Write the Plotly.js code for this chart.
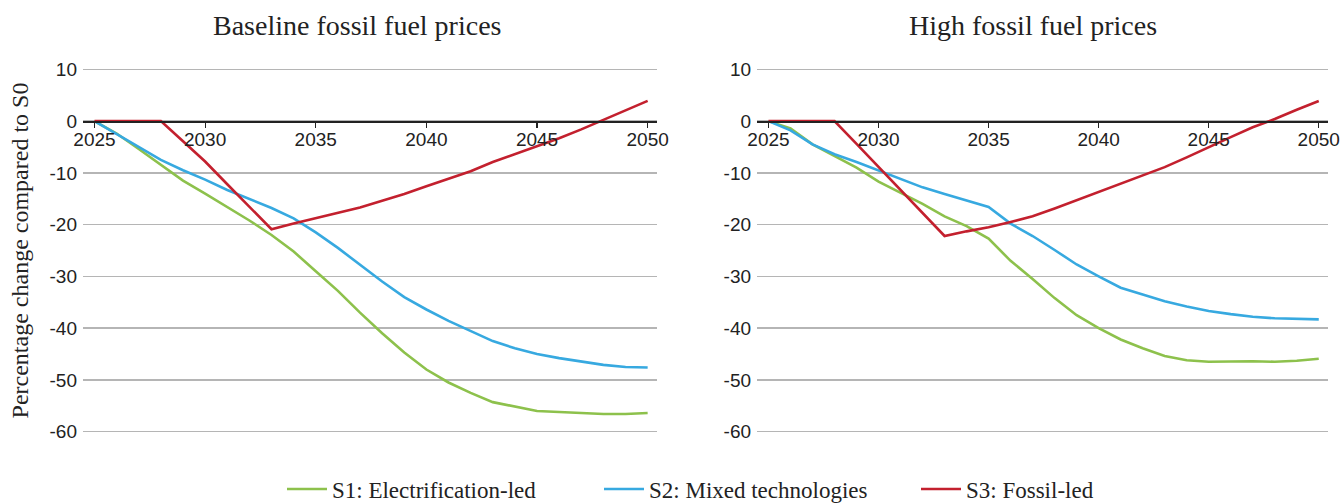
<!DOCTYPE html>
<html>
<head>
<meta charset="utf-8">
<script src="https://cdn.plot.ly/plotly-3.0.1.min.js"></script>
<style>html,body{margin:0;padding:0;background:#fff;}#chart{width:1343px;height:503px;}</style>
</head>
<body>
<div id="chart"></div>
<script>
const years = [2025,2026,2027,2028,2029,2030,2031,2032,2033,2034,2035,2036,2037,2038,2039,2040,2041,2042,2043,2044,2045,2046,2047,2048,2049,2050];
const tickYears = [2025,2030,2035,2040,2045,2050];
const seriesNames = ["S1: Electrification-led","S2: Mixed technologies","S3: Fossil-led"];
const panelTitles = ["Baseline fossil fuel prices","High fossil fuel prices"];

// Baseline fossil fuel prices
const baseS1 = [0,-2.4,-5.4,-8.5,-11.5,-14,-16.6,-19.2,-22,-25.2,-29,-32.8,-37,-41,-44.7,-48,-50.5,-52.5,-54.3,-55.2,-56,-56.2,-56.4,-56.6,-56.6,-56.4];
const baseS2 = [0,-2.5,-5,-7.5,-9.5,-11.3,-13.3,-15,-16.8,-18.8,-21.5,-24.5,-27.8,-31,-34,-36.4,-38.6,-40.5,-42.5,-43.9,-45,-45.8,-46.5,-47.1,-47.5,-47.6];
const baseS3 = [0,0,0,0,-3.9,-7.8,-12.2,-16.5,-20.9,-19.8,-18.8,-17.8,-16.7,-15.4,-14.1,-12.6,-11.2,-9.7,-7.9,-6.4,-4.9,-3.3,-1.6,0.2,2.1,3.9];

// High fossil fuel prices
const highS1 = [0,-1.4,-4.5,-6.8,-9,-11.7,-13.8,-16,-18.4,-20.3,-22.7,-27,-30.5,-34.2,-37.5,-40,-42.2,-43.9,-45.4,-46.2,-46.5,-46.4,-46.4,-46.5,-46.3,-45.9];
const highS2 = [0,-1.8,-4.5,-6.4,-7.9,-9.5,-11.2,-12.8,-14.1,-15.3,-16.6,-19.8,-22.2,-24.9,-27.7,-30,-32.2,-33.5,-34.8,-35.8,-36.7,-37.3,-37.8,-38.1,-38.2,-38.3];
const highS3 = [0,0,0,0,-4.4,-8.8,-13.3,-17.8,-22.2,-21.3,-20.5,-19.5,-18.4,-16.9,-15.3,-13.8,-12.2,-10.6,-8.9,-7,-5,-3.1,-1.2,0.4,2.2,3.9];

const colors = ["#8dc14c","#37a9e0","#c3202e"];
const yRange = [-62, 12];
const xRange = [2024.48, 2050.42];
const zeroPos = (0 - yRange[0]) / (yRange[1] - yRange[0]);

const traces = [];
const panels = [[baseS1, baseS2, baseS3],[highS1, highS2, highS3]];
panels.forEach((p, pi) => {
  p.forEach((vals, si) => {
    traces.push({
      x: years, y: vals, type: "scatter", mode: "lines",
      name: seriesNames[si], legendgroup: "s" + si, showlegend: pi === 0,
      line: {color: colors[si], width: 2.6},
      xaxis: pi === 0 ? "x" : "x2", yaxis: pi === 0 ? "y" : "y2",
      hoverinfo: "skip"
    });
  });
});

const tickFont = {family: "'Liberation Sans Narrow', 'Liberation Sans', Arial, sans-serif", size: 19, color: "#222"};
const serif = "'Liberation Serif', 'DejaVu Serif', serif";

function xax(domain) {
  return {
    domain: domain, range: xRange, anchor: "free",
    position: zeroPos, tickvals: tickYears, ticktext: tickYears.map(String),
    showgrid: false, zeroline: false, showline: true, linecolor: "#222", linewidth: 1.5,
    ticks: "outside", ticklen: 5, tickwidth: 1.2, tickcolor: "#222",
    tickfont: tickFont, ticklabelstandoff: -4, fixedrange: true
  };
}
function yax(anchor) {
  return {
    anchor: anchor, range: yRange, tickvals: [10,0,-10,-20,-30,-40,-50,-60],
    ticktext: ["10","0","-10","-20","-30","-40","-50","-60"],
    showgrid: true, gridcolor: "#b5b5b5", gridwidth: 1.6, zeroline: false,
    showline: false, ticks: "", tickfont: tickFont, ticklabelstandoff: 5, fixedrange: true
  };
}

const x1 = xax([0, 0.461]);
const x2 = xax([0.5414, 1]);
const y1 = yax("x");
y1.title = {text: "Percentage change compared to S0", font: {family: serif, size: 24, color: "#222"}, standoff: 14};
const y2 = yax("x2");

const layout = {
  width: 1343, height: 503,
  margin: {l: 83, r: 15, t: 59, b: 61, autoexpand: false},
  paper_bgcolor: "#fff", plot_bgcolor: "#fff",
  xaxis: x1, xaxis2: x2, yaxis: y1, yaxis2: y2,
  showlegend: true,
  legend: {orientation: "h", x: (282-83)/1245, xanchor: "left", y: (442-489)/383, yanchor: "middle",
    font: {family: serif, size: 23, color: "#222"}, itemwidth: 40, entrywidth: 262, entrywidthmode: "pixels"},
  annotations: [
    {text: panelTitles[0], xref: "paper", yref: "paper", x: (357-83)/1245, y: (442-25)/383,
     xanchor: "center", yanchor: "middle", showarrow: false, font: {family: serif, size: 28, color: "#222"}},
    {text: panelTitles[1], xref: "paper", yref: "paper", x: (1033-83)/1245, y: (442-25)/383,
     xanchor: "center", yanchor: "middle", showarrow: false, font: {family: serif, size: 28, color: "#222"}}
  ]
};

Plotly.newPlot("chart", traces, layout, {displayModeBar: false, staticPlot: true});
</script>
</body>
</html>
